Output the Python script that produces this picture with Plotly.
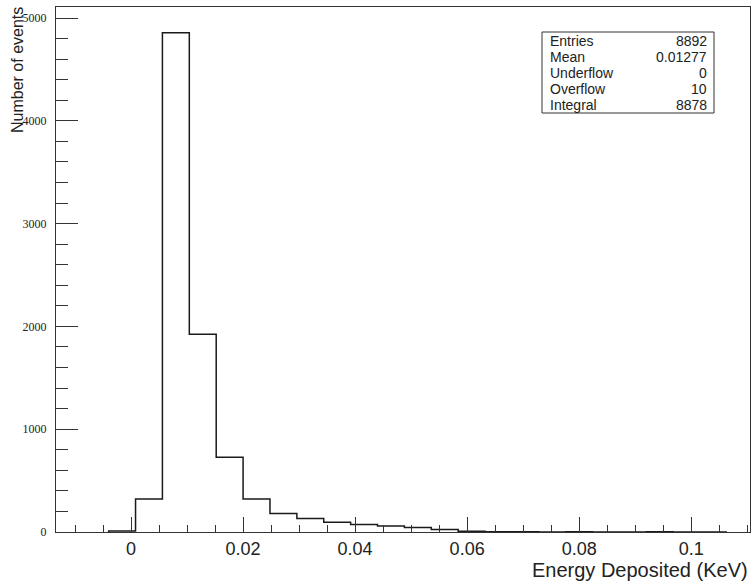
import plotly.graph_objects as go

# ---- data ----
bin_start = -0.0040
bin_width = 0.0048
counts = [10, 322, 4857, 1923, 728, 322, 181, 132, 96, 74, 58, 44, 25, 8,
          3, 2, 0, 2, 1, 0, 2, 1, 0]

x_range = [-0.0134, 0.1105]
y_range = [0, 5107]

stat_names = ["Entries", "Mean", "Underflow", "Overflow", "Integral"]
stat_values = ["8892", "0.01277", "0", "10", "8878"]

x_title = "Energy Deposited (KeV)"
y_title = "Number of events"

# ---- build step outline from bins ----
edges = [bin_start + i * bin_width for i in range(len(counts) + 1)]
xs = [edges[0]] + edges
ys = [0] + counts + [0]

fig = go.Figure()
fig.add_trace(go.Scatter(
    x=xs, y=ys, mode="lines", line=dict(color="#1a1a1a", width=1.5, shape="hv"),
    hoverinfo="skip", showlegend=False,
))

axis_col = "#333333"
fig.update_layout(
    width=755, height=585,
    margin=dict(l=56, r=5, t=7, b=53),
    paper_bgcolor="white", plot_bgcolor="white",
    showlegend=False,
    xaxis=dict(
        range=x_range, showgrid=False, zeroline=False,
        showline=True, linecolor=axis_col, linewidth=1, mirror=True,
        ticks="inside", ticklen=15, tickcolor=axis_col, tickwidth=1,
        tick0=0, dtick=0.02,
        minor=dict(ticks="inside", ticklen=7, tickcolor=axis_col, dtick=0.005, tick0=0, showgrid=False),
        tickfont=dict(family="Liberation Sans", size=18, color="#222222"),
        ticklabelstandoff=0,
    ),
    yaxis=dict(
        range=y_range, showgrid=False, zeroline=False,
        showline=True, linecolor=axis_col, linewidth=1, mirror=True,
        ticks="inside", ticklen=22, tickcolor=axis_col, tickwidth=1,
        tick0=0, dtick=1000,
        minor=dict(ticks="inside", ticklen=12, tickcolor=axis_col, dtick=200, tick0=0, showgrid=False),
        tickfont=dict(family="Liberation Serif", size=12, color="#222222"),
        ticklabelstandoff=6,
    ),
)

# axis titles
fig.add_annotation(
    text=x_title, xref="paper", yref="paper", x=1.0, y=0.0, xanchor="right", yanchor="top",
    yshift=-25, showarrow=False, font=dict(family="Liberation Sans", size=20, color="#222222"),
)
fig.add_annotation(
    text=y_title, xref="paper", yref="paper", x=0, y=1.0, xanchor="center", yanchor="top",
    xshift=-39, yshift=2, textangle=-90, showarrow=False,
    font=dict(family="Liberation Sans", size=16, color="#222222"),
)

# stats box
plot_w, plot_h = 694.0, 525.0
def px(xp):
    return (xp - 56) / plot_w
def py(yp):
    return (532 - yp) / plot_h

fig.add_shape(type="rect", xref="paper", yref="paper",
              x0=px(542), x1=px(714), y0=py(113), y1=py(32),
              line=dict(color="#333333", width=1), fillcolor="white")
row_y = [41, 57, 73, 89, 105]
for name, val, yy in zip(stat_names, stat_values, row_y):
    fig.add_annotation(text=name, xref="paper", yref="paper", x=px(548), y=py(yy),
                       xanchor="left", yanchor="middle", showarrow=False,
                       font=dict(family="Liberation Sans", size=14, color="#222222"))
    fig.add_annotation(text=val, xref="paper", yref="paper", x=px(709), y=py(yy),
                       xanchor="right", yanchor="middle", showarrow=False,
                       font=dict(family="Liberation Sans", size=14, color="#222222"))

fig.write_html("out.html")
